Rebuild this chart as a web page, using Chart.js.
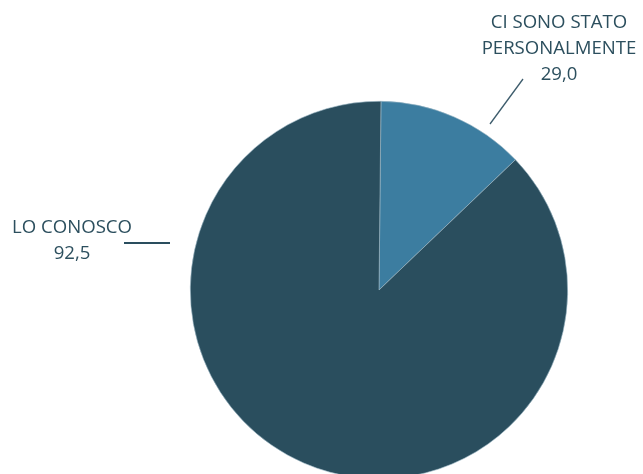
<!DOCTYPE html>
<html>
<head>
<meta charset="utf-8">
<script src="https://cdn.jsdelivr.net/npm/chart.js@4/dist/chart.umd.min.js"></script>
<style>
  html, body { margin: 0; padding: 0; background: #fff; overflow: hidden; }
  #wrap { position: absolute; left: 0; top: 0; width: 643px; height: 490px; }
</style>
</head>
<body>
<div id="wrap"><canvas id="chart-pie"></canvas></div>
<script>
// categories, in drawing order (clockwise from the top)
const categories = ['CI SONO STATO PERSONALMENTE', 'LO CONOSCO'];
// values printed on the labels
const labelValues = [29.0, 92.5];
// share of the circle each slice takes in the picture (estimated from the angles)
const sliceShares = [12.7, 87.3];
const sliceColors = ['#3c7da0', '#2a4e5e'];

// where each label sits, relative to the pie centre
const labelLayout = [
    { lines: ['CI SONO STATO', 'PERSONALMENTE'], tx: 180, ty: -267, line: [111, -166, 144, -211], lineWidth: 1.3, lineColor: '#3d5c6c' },
    { lines: ['LO CONOSCO'], tx: -307, ty: -62, line: [-255, -47, -209, -47], lineWidth: 2, lineColor: '#2a4e5e' }
];

const calloutPlugin = {
    id: 'callouts',
    afterDraw(chart) {
        const ctx = chart.ctx;
        const arc = chart.getDatasetMeta(0).data[0];
        const cx = arc.x, cy = arc.y;
        ctx.save();
        ctx.font = '18.6px "Open Sans"';
        ctx.fillStyle = '#2c4f5e';
        ctx.textAlign = 'center';
        ctx.textBaseline = 'middle';
        labelLayout.forEach((l, i) => {
            const txt = l.lines.concat([labelValues[i].toFixed(1).replace('.', ',')]);
            txt.forEach((t, j) => ctx.fillText(t, cx + l.tx, cy + l.ty + j * 26));
            ctx.beginPath();
            ctx.strokeStyle = l.lineColor;
            ctx.lineWidth = l.lineWidth;
            ctx.moveTo(cx + l.line[0], cy + l.line[1]);
            ctx.lineTo(cx + l.line[2], cy + l.line[3]);
            ctx.stroke();
        });
        ctx.restore();
    }
};

function createPieChart(canvasId) {
    const ctx = document.getElementById(canvasId).getContext('2d');
    new Chart(ctx, {
        type: 'pie',
        data: {
            labels: categories,
            datasets: [{
                data: sliceShares,
                backgroundColor: sliceColors,
                borderColor: '#9db8c6',
                borderWidth: 0.6
            }]
        },
        options: {
            responsive: true,
            maintainAspectRatio: false,
            animation: false,
            rotation: 0.6,
            layout: { padding: { left: 190, right: 75, top: 101, bottom: 11 } },
            plugins: {
                legend: { display: false },
                tooltip: { enabled: false }
            }
        },
        plugins: [calloutPlugin]
    });
}

createPieChart('chart-pie');
</script>
</body>
</html>
